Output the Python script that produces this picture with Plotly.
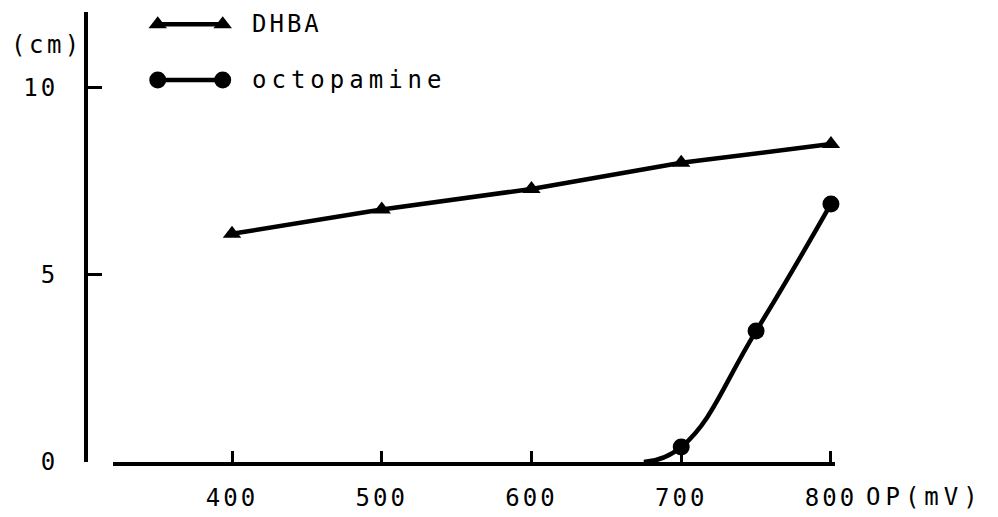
import plotly.graph_objects as go

# ---- data ----
dhba_mv = [400, 500, 600, 700, 800]
dhba_cm = [6.1, 6.75, 7.3, 8.0, 8.5]

octo_mv = [700, 750, 800]
octo_cm = [0.4, 3.5, 6.9]
octo_onset_mv = 675          # where the drawn curve leaves the baseline

x_ticks = [400, 500, 600, 700, 800]
y_ticks = [0, 5, 10]

FONT = "DejaVu Sans Mono"
LS = "letter-spacing:3px"

def spaced(t, ls=LS):
    return f'<span style="{ls}">{t}</span>'

fig = go.Figure()

fig.add_trace(go.Scatter(
    x=dhba_mv, y=dhba_cm, mode="lines+markers",
    line=dict(color="black", width=4.5),
    marker=dict(symbol="triangle-up", size=16, color="black"),
    cliponaxis=False, showlegend=False))

fig.add_trace(go.Scatter(
    x=[octo_onset_mv] + octo_mv, y=[0] + octo_cm, mode="lines",
    line=dict(color="black", width=4.5, shape="spline", smoothing=1.3),
    cliponaxis=False, showlegend=False))
fig.add_trace(go.Scatter(
    x=octo_mv, y=octo_cm, mode="markers",
    marker=dict(symbol="circle", size=17, color="black"),
    cliponaxis=False, showlegend=False))

# ---- hand-made legend (overlay axes, fractions of the x-axis domain) ----
leg_x = [0.062, 0.152]
fig.add_trace(go.Scatter(
    x=leg_x, y=[0.973, 0.973], xaxis="x2", yaxis="y2", mode="lines+markers",
    line=dict(color="black", width=4.5),
    marker=dict(symbol="triangle-up", size=16, color="black"),
    cliponaxis=False, showlegend=False))
fig.add_trace(go.Scatter(
    x=leg_x, y=[0.849, 0.849], xaxis="x2", yaxis="y2", mode="lines+markers",
    line=dict(color="black", width=4.5),
    marker=dict(symbol="circle", size=17, color="black"),
    cliponaxis=False, showlegend=False))

annos = [
    dict(x=250, y=24, text=spaced("DHBA"), xanchor="left"),
    dict(x=250, y=80, text=spaced("octopamine", "letter-spacing:5px"), xanchor="left"),
    dict(x=9, y=45, text=spaced("(cm)", "letter-spacing:3.5px"), xanchor="left"),
    dict(x=864, y=497, text=spaced("OP(mV)", "letter-spacing:5px"), xanchor="left"),
]
for a in annos:
    fig.add_annotation(xref="paper", yref="paper", showarrow=False,
                       yanchor="middle", font=dict(family=FONT, size=24, color="black"),
                       text=a["text"], xanchor=a["xanchor"],
                       x=(a["x"] - 86) / 749,
                       y=1 - (a["y"] - 12) / 450)

# the page body adds an 8px offset, so the figure is 8px smaller and shifted
fig.update_layout(
    width=990, height=509,
    margin=dict(l=78, r=163, t=4, b=55),
    paper_bgcolor="white", plot_bgcolor="white",
    font=dict(family=FONT, size=24, color="black"),
    xaxis=dict(
        domain=[0.036, 1], range=[320.5, 802.7], automargin=False,
        showgrid=False, zeroline=False,
        showline=True, linecolor="black", linewidth=4,
        ticks="inside", ticklen=11, tickwidth=3, tickcolor="black",
        tickvals=x_ticks, ticktext=[spaced(str(v)) for v in x_ticks],
        ticklabelstandoff=11,
    ),
    yaxis=dict(
        anchor="free", position=0, range=[0, 12.03], automargin=False,
        showgrid=False, zeroline=False,
        showline=True, linecolor="black", linewidth=4,
        ticks="inside", ticklen=14, tickwidth=3, tickcolor="black",
        tickvals=y_ticks, ticktext=[spaced(str(v)) for v in y_ticks],
        ticklabelstandoff=21,
    ),
    xaxis2=dict(overlaying="x", range=[0, 1], visible=False),
    yaxis2=dict(overlaying="y", range=[0, 1], visible=False),
)

fig.write_html("out.html")
